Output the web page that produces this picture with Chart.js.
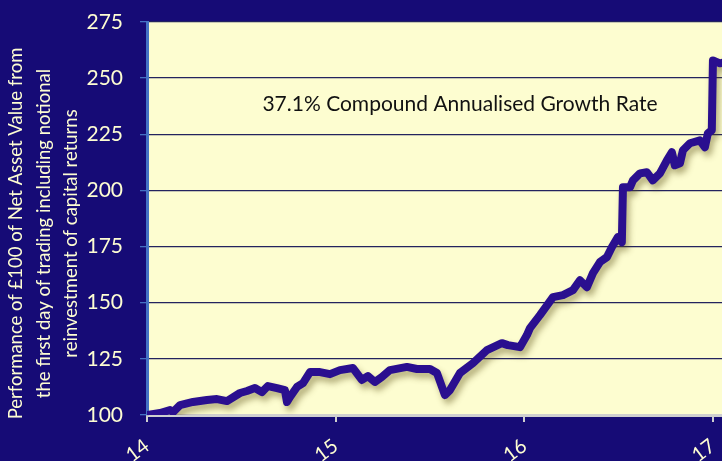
<!DOCTYPE html>
<html>
<head>
<meta charset="utf-8">
<script src="https://cdn.jsdelivr.net/npm/chart.js@4.4.1/dist/chart.umd.min.js"></script>
<style>
html,body{margin:0;padding:0;background:#160b76;}
#wrap{width:722px;height:461px;position:relative;}
</style>
</head>
<body>
<div id="wrap"><canvas id="c" width="722" height="461"></canvas></div>
<script>
const years = [14.000,14.069,14.122,14.138,14.175,14.244,14.318,14.371,14.424,14.493,14.530,14.572,14.609,14.641,14.689,14.731,14.742,14.758,14.795,14.827,14.864,14.917,14.970,15.023,15.092,15.139,15.171,15.208,15.245,15.288,15.378,15.431,15.500,15.537,15.579,15.606,15.659,15.728,15.802,15.881,15.913,15.977,16.014,16.030,16.083,16.152,16.205,16.258,16.295,16.332,16.364,16.401,16.438,16.464,16.496,16.517,16.523,16.560,16.576,16.613,16.650,16.681,16.719,16.756,16.782,16.798,16.825,16.841,16.878,16.931,16.957,16.973,16.994,17.000,17.037,17.048];
const navValues = [100.0,100.9,102.2,101.3,104.4,105.8,106.7,107.1,106.2,109.8,110.7,112.0,110.2,112.9,112.0,111.1,105.8,108.0,112.5,114.2,119.1,119.1,118.2,120.0,120.9,115.6,117.3,114.7,116.9,120.0,121.4,120.5,120.5,118.7,108.9,111.1,118.7,123.1,128.9,132.0,131.1,130.2,135.6,138.7,144.5,152.5,153.4,155.6,160.0,156.9,163.2,168.1,170.3,174.7,179.2,176.9,201.4,201.4,204.5,207.6,208.1,204.5,207.6,213.4,217.0,211.2,212.1,217.9,221.0,222.3,219.2,225.4,226.8,257.9,256.6,256.8];
const xTickValues = [14,15,16,17];
const xTickLabels = ['14','15','16','17'];
const yTickValues = [100,125,150,175,200,225,250,275];
const yAxisTitle = ['Performance of £100 of Net Asset Value from','the first day of trading including notional','reinvestment of capital returns'];
const annotationText = '37.1% Compound Annualised Growth Rate';

const NAVY = '#160b76';
const CREAM = '#fdfdd0';
const TEXT = '#fdfdd2';
const FONT = 'Lato, "Open Sans", sans-serif';

const bgPlugin = {
  id: 'bg',
  beforeDraw(chart) {
    const {ctx, chartArea: a} = chart;
    ctx.save();
    ctx.fillStyle = NAVY;
    ctx.fillRect(0, 0, chart.width, chart.height);
    ctx.fillStyle = CREAM;
    ctx.fillRect(a.left, a.top, a.right - a.left, a.bottom - a.top);
    ctx.restore();
  }
};
const shadowPlugin = {
  id: 'shadow',
  beforeDatasetDraw(chart) {
    const ctx = chart.ctx;
    ctx.save();
    ctx.shadowColor = 'rgba(90,80,20,0.45)';
    ctx.shadowBlur = 6;
    ctx.shadowOffsetX = 3;
    ctx.shadowOffsetY = 5;
  },
  afterDatasetDraw(chart) {
    chart.ctx.restore();
  }
};
const notePlugin = {
  id: 'note',
  afterDraw(chart) {
    const ctx = chart.ctx;
    ctx.save();
    ctx.fillStyle = '#111111';
    ctx.font = '21px ' + FONT;
    ctx.textAlign = 'center';
    ctx.textBaseline = 'middle';
    ctx.fillText(annotationText, 460, 104);
    ctx.restore();
  }
};
function noPad(s) { s.paddingLeft = 0; s.paddingRight = 0; s.paddingTop = 0; s.paddingBottom = 0; }

new Chart(document.getElementById('c'), {
  type: 'line',
  data: {
    datasets: [{
      data: years.map((x, i) => ({x: x, y: navValues[i]})),
      borderColor: '#2a0f8f',
      borderWidth: 8,
      pointRadius: 0,
      tension: 0,
      borderJoinStyle: 'round',
      borderCapStyle: 'round',
      fill: false
    }]
  },
  options: {
    responsive: false,
    animation: false,
    layout: {padding: {top: 22, right: 0, left: 0, bottom: 0}, autoPadding: false},
    plugins: {legend: {display: false}, tooltip: {enabled: false}},
    scales: {
      x: {
        type: 'linear',
        min: 14,
        max: 17.048,
        afterFit(s) { s.height = 46; noPad(s); },
        afterBuildTicks(s) { s.ticks = xTickValues.map(v => ({value: v})); },
        ticks: {
          color: TEXT,
          font: {family: FONT, size: 20},
          maxRotation: 37,
          minRotation: 37,
          padding: 12,
          callback: (v) => xTickLabels[xTickValues.indexOf(v)]
        },
        grid: {drawOnChartArea: false, tickColor: '#cfcfcf', tickLength: 7, lineWidth: 2},
        border: {color: '#cfcfcf', width: 3}
      },
      y: {
        min: 100,
        max: 275,
        afterFit(s) {
          s.width = 147; noPad(s);
          if (!s._titleShifted) {
            const orig = s.drawTitle;
            s.drawTitle = function () {
              const c = this.ctx; c.save(); c.translate(0, 15); orig.call(this); c.restore();
            };
            s._titleShifted = true;
          }
        },
        afterBuildTicks(s) { s.ticks = yTickValues.map(v => ({value: v})); },
        ticks: {color: TEXT, font: {family: FONT, size: 21}, padding: 17},
        grid: {color: '#23235e', tickColor: '#4472c4', tickLength: 7, lineWidth: 1.3},
        border: {color: '#4472c4', width: 3},
        title: {
          display: true,
          text: yAxisTitle,
          color: TEXT,
          font: {family: FONT, size: 18.5, lineHeight: 1.5},
          padding: {top: 2, bottom: 0}
        }
      }
    }
  },
  plugins: [bgPlugin, shadowPlugin, notePlugin]
});
</script>
</body>
</html>
